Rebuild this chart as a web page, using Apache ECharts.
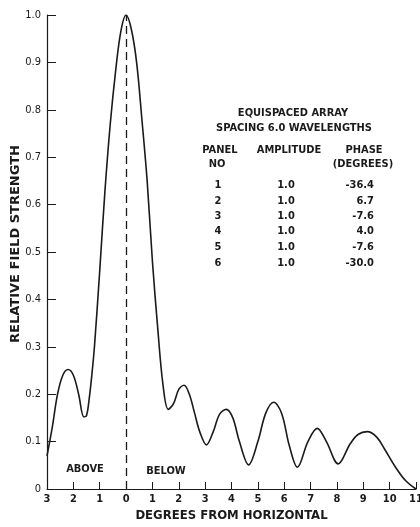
<!DOCTYPE html>
<html>
<head>
<meta charset="utf-8">
<script src="https://cdn.jsdelivr.net/npm/echarts@6/dist/echarts.min.js"></script>
<style>
  html, body { margin: 0; padding: 0; background: #fff; }
  #chart { width: 420px; height: 527px; }
</style>
</head>
<body>
<div id="chart"></div>
<script>
  // 方向图数据（度，相对场强）
  var degrees = [-3.0, -2.8, -2.6, -2.4, -2.2, -2.0, -1.8, -1.6, -1.5, -1.4, -1.3, -1.2, -1.0, -0.8, -0.6, -0.4, -0.2, 0,
    0.2, 0.4, 0.6, 0.8, 1.0, 1.2, 1.4, 1.6, 1.8, 2.0, 2.2, 2.4, 2.6, 2.8, 3.05, 3.3, 3.55, 3.8, 4.05, 4.3, 4.65,
    5.0, 5.3, 5.6, 5.9, 6.2, 6.5, 6.9, 7.25, 7.6, 8.05, 8.5, 8.8, 9.15, 9.5, 9.8, 10.2, 10.6, 11.0];
  var strength = [0.07, 0.13, 0.20, 0.24, 0.252, 0.24, 0.20, 0.152, 0.155, 0.19, 0.24, 0.30, 0.46, 0.63, 0.77, 0.88, 0.965, 1.0,
    0.97, 0.90, 0.78, 0.65, 0.48, 0.34, 0.22, 0.168, 0.18, 0.21, 0.219, 0.20, 0.16, 0.12, 0.093, 0.12, 0.158, 0.168, 0.15, 0.10, 0.051,
    0.10, 0.16, 0.183, 0.16, 0.09, 0.046, 0.10, 0.128, 0.10, 0.053, 0.095, 0.115, 0.121, 0.11, 0.085, 0.048, 0.018, 0.0];

  // 表格
  var panelNo = ['1', '2', '3', '4', '5', '6'];
  var amplitude = ['1.0', '1.0', '1.0', '1.0', '1.0', '1.0'];
  var phase = ['-36.4', '6.7', '-7.6', '4.0', '-7.6', '-30.0'];

  var font = '"DejaVu Sans Condensed", "Liberation Sans Narrow", "DejaVu Sans", sans-serif';
  var ink = '#1a1a1a';

  var points = degrees.map(function (d, i) { return [d, strength[i]]; });

  function txt(str, x, y, align, size) {
    return {
      type: 'text', x: x, y: y,
      style: {
        text: str, fill: ink, font: 'bold ' + (size || 11) + 'px ' + font,
        align: align || 'center', verticalAlign: 'middle'
      }
    };
  }

  var tableTexts = [
    txt('EQUISPACED ARRAY', 293, 113),
    txt('SPACING 6.0 WAVELENGTHS', 294, 128),
    txt('PANEL', 220, 150),
    txt('NO', 217, 164),
    txt('AMPLITUDE', 289, 150),
    txt('PHASE', 364, 150),
    txt('(DEGREES)', 363, 164),
    txt('ABOVE', 85, 469),
    txt('BELOW', 166, 471)
  ];
  var rowY = [185, 201, 216, 231, 247, 263];
  panelNo.forEach(function (p, i) {
    tableTexts.push(txt(p, 218, rowY[i]));
    tableTexts.push(txt(amplitude[i], 286, rowY[i]));
    tableTexts.push(txt(phase[i], 374, rowY[i], 'right'));
  });

  var chart = echarts.init(document.getElementById('chart'));
  chart.setOption({
    animation: false,
    backgroundColor: '#fff',
    grid: { left: 47, right: 4, top: 15, bottom: 38, outerBoundsMode: 'none' },
    xAxis: {
      type: 'value',
      min: -3, max: 11, interval: 1,
      name: 'DEGREES FROM HORIZONTAL',
      nameLocation: 'middle',
      nameGap: 20,
      nameMoveOverlap: false,
      nameTextStyle: { color: ink, fontFamily: font, fontWeight: 'bold', fontSize: 13 },
      axisLine: { show: true, onZero: false, lineStyle: { color: ink, width: 1.2 } },
      axisTick: { show: true, inside: true, length: 7, lineStyle: { color: ink, width: 1 } },
      axisLabel: {
        color: ink, fontFamily: font, fontWeight: 'bold', fontSize: 11, margin: 5,
        formatter: function (v) { return String(Math.abs(v)); }
      },
      splitLine: { show: false }
    },
    yAxis: {
      type: 'value',
      min: 0, max: 1, interval: 0.1,
      name: 'RELATIVE FIELD STRENGTH',
      nameLocation: 'middle',
      nameGap: 25,
      nameMoveOverlap: false,
      nameTextStyle: { color: ink, fontFamily: '"DejaVu Sans", sans-serif', fontWeight: 'bold', fontSize: 13, padding: [0, 0, 0, 16] },
      axisLine: { show: true, onZero: false, lineStyle: { color: ink, width: 1.2 } },
      axisTick: { show: true, inside: true, length: 9, lineStyle: { color: ink, width: 1 } },
      axisLabel: {
        color: ink, fontFamily: font, fontSize: 11, margin: 6,
        formatter: function (v) { return v === 0 ? '0' : v.toFixed(1); }
      },
      splitLine: { show: false }
    },
    series: [{
      type: 'line',
      data: points,
      smooth: 0.35,
      showSymbol: false,
      lineStyle: { color: ink, width: 1.6 },
      markLine: {
        silent: true,
        symbol: 'none',
        label: { show: false },
        lineStyle: { color: ink, width: 1.3, type: [8, 5] },
        data: [{ xAxis: 0 }]
      }
    }],
    graphic: tableTexts
  });
</script>
</body>
</html>
